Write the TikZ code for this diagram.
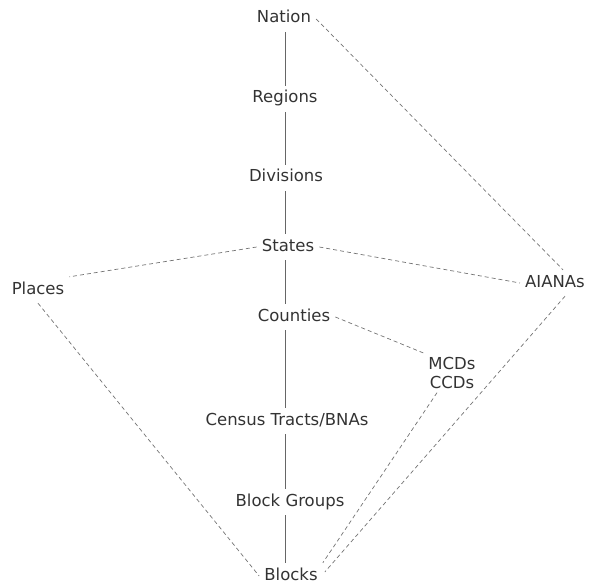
\documentclass[tikz,border=0pt]{standalone}
\usepackage{fontspec}
\setmainfont{DejaVu Sans}
\usetikzlibrary{calc}
\begin{document}
\begin{tikzpicture}[x=1pt,y=-1pt,
  lbl/.style={font=\fontsize{16.5}{18}\selectfont, text=black!80, inner sep=5pt, text height=12pt, text depth=4pt},
  lbltwo/.style={font=\fontsize{16.5}{18.5}\selectfont, text=black!80, inner sep=4pt, align=center},
  vline/.style={draw=black!60, line width=0.7pt},
  dline/.style={draw=black!55, line width=0.7pt, dash pattern=on 4pt off 3pt}]
\useasboundingbox (0,0) rectangle (593,585);
\coordinate (spine) at (285,0);
\node[lbl] (nation)   at (284,19)  {Nation};
\node[lbl] (regions)  at (285,99)  {Regions};
\node[lbl] (divisions)at (286,178) {Divisions};
\node[lbl] (states)   at (288,247) {States};
\node[lbl] (places)   at (38,290)  {Places};
\node[lbl] (aianas)   at (555,283) {AIANAs};
\node[lbl] (counties) at (294,317) {Counties};
\node[lbltwo] (mcd)   at (452,373) {MCDs\\CCDs};
\node[lbl] (tracts)   at (287,421) {Census Tracts/BNAs};
\node[lbl] (bg)       at (290,502) {Block Groups};
\node[lbl] (blocks)   at (291,576) {Blocks};
% spine
\draw[vline] (nation.south -| spine) -- (regions.north -| spine);
\draw[vline] (regions.south -| spine) -- (divisions.north -| spine);
\draw[vline] (divisions.south -| spine) -- (states.north -| spine);
\draw[vline] (states.south -| spine) -- (counties.north -| spine);
\draw[vline] (counties.south -| spine) -- (tracts.north -| spine);
\draw[vline] (tracts.south -| spine) -- (bg.north -| spine);
\draw[vline] (bg.south -| spine) -- (blocks.north -| spine);
% diagonals
\draw[dline] (nation.east) -- ($(aianas.north)+(8,0)$);
\draw[dline] (states.east) -- (aianas.west);
\draw[dline] (states.west) -- (places.north east);
\draw[dline] (counties.east) -- (mcd.north west);
\draw[dline] (places.south) -- (blocks.west);
\draw[dline] ($(mcd.south)+(-15,0)$) -- (blocks.north east);
\draw[dline] ($(aianas.south)+(10,0)$) -- ($(blocks.east)+(2,-4)$);
\end{tikzpicture}
\end{document}
